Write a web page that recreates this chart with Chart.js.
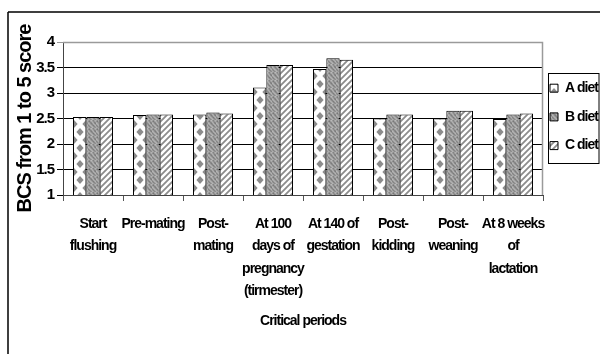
<!DOCTYPE html>
<html><head><meta charset="utf-8">
<script src="https://cdn.jsdelivr.net/npm/chart.js@4/dist/chart.umd.min.js"></script>
<style>html,body{margin:0;padding:0;background:#fff;}#wrap{width:600px;height:354px;position:relative;}</style>
</head><body><div id="wrap"><canvas id="c" width="600" height="354"></canvas></div>
<script>
const categories = [
  ["Start","flushing"],
  ["Pre-mating"],
  ["Post-","mating"],
  ["At 100","days of","pregnancy","(tirmester)"],
  ["At 140 of","gestation"],
  ["Post-","kidding"],
  ["Post-","weaning"],
  ["At 8 weeks","of","lactation"]
];
const seriesNames = ["A diet","B diet","C diet"];
const dietA = [2.53, 2.57, 2.58, 3.11, 3.47, 2.50, 2.50, 2.49];
const dietB = [2.53, 2.58, 2.62, 3.55, 3.68, 2.58, 2.65, 2.58];
const dietC = [2.53, 2.58, 2.60, 3.55, 3.65, 2.58, 2.65, 2.60];
const yMin = 1, yMax = 4, yStep = 0.5;
const yTitle = "BCS from 1 to 5 score";
const xTitle = "Critical periods";

const FONT = "'Liberation Sans Narrow','Arial Narrow','Liberation Sans',Arial,sans-serif";

const canvas = document.getElementById('c');
const ctx = canvas.getContext('2d');
function mk(w,h){const c=document.createElement('canvas');c.width=w;c.height=h;return c;}

function diamondPattern(){
  const c=mk(12,16), g=c.getContext('2d');
  g.fillStyle='#fff'; g.fillRect(0,0,12,16);
  g.fillStyle='#8c8c8c';
  const d=(x,y)=>{g.beginPath();g.moveTo(x,y-4);g.lineTo(x+3.6,y);g.lineTo(x,y+4);g.lineTo(x-3.6,y);g.closePath();g.fill();};
  d(6,4); d(6,20); d(6,-12); d(0,12); d(12,12); d(0,-4); d(12,-4);
  const p=ctx.createPattern(c,'repeat');
  p.setTransform(new DOMMatrix().translate(74,0));
  return p;
}
function texturePattern(){
  const shades=[
    [160,140,170,186,152,132,164,178],
    [142,120,152,172,166,142,150,170],
    [170,152,132,142,176,160,128,142],
    [182,170,142,124,152,178,142,122],
    [152,176,166,142,132,162,174,150],
    [132,150,178,170,142,124,160,180],
    [158,132,152,176,172,142,134,162],
    [174,162,138,150,180,166,148,140]
  ];
  const c=mk(8,8), g=c.getContext('2d');
  for(let y=0;y<8;y++)for(let x=0;x<8;x++){const v=shades[y][x];g.fillStyle=`rgb(${v},${v},${v})`;g.fillRect(x,y,1,1);}
  return ctx.createPattern(c,'repeat');
}
function stripePattern(){
  const c=mk(6,6), g=c.getContext('2d');
  g.fillStyle='#fff'; g.fillRect(0,0,6,6);
  g.strokeStyle='#8c8c8c'; g.lineWidth=1.8;
  g.beginPath(); g.moveTo(-1,7); g.lineTo(7,-1); g.moveTo(-4,4); g.lineTo(4,-4); g.moveTo(2,10); g.lineTo(10,2); g.stroke();
  return ctx.createPattern(c,'repeat');
}

const SPACING='-1px';
const framePlugin = {
  id:'frame',
  beforeUpdate(chart){chart.ctx.letterSpacing=SPACING;},
  beforeLayout(chart){chart.ctx.letterSpacing=SPACING;},
  beforeDraw(chart){
    const g=chart.ctx;
    g.letterSpacing=SPACING;
    g.save();
    g.fillStyle='#fff'; g.fillRect(0,0,chart.width,chart.height);
    g.strokeStyle='#000'; g.lineWidth=1.5;
    g.beginPath(); g.moveTo(8,12); g.lineTo(chart.width,12); g.moveTo(8,12); g.lineTo(8,chart.height); g.stroke();
    g.restore();
  },
  beforeDatasetsDraw(chart){
    const a=chart.chartArea, g=chart.ctx; g.save();
    g.strokeStyle='#9a9a9a'; g.lineWidth=1.5;
    g.beginPath(); g.moveTo(a.left,a.top+0.5); g.lineTo(a.right-0.5,a.top+0.5); g.lineTo(a.right-0.5,a.bottom); g.stroke();
    g.restore();
  },
  afterDraw(chart){
    const hb=chart.legend && chart.legend.legendHitBoxes; if(!hb||!hb.length) return;
    const g=chart.ctx; g.save();
    g.strokeStyle='#000'; g.lineWidth=1;
    const last=hb[hb.length-1];
    const l=Math.round(hb[0].left-2)+0.5, t=Math.round(hb[0].top-8)+0.5, b=Math.round(last.top+last.height+3)+0.5;
    g.strokeRect(l,t,599-l,b-t);
    g.restore();
  }
};

new Chart(canvas,{
  type:'bar',
  data:{
    labels:categories,
    datasets:[
      {label:seriesNames[0],data:dietA,backgroundColor:diamondPattern(),borderColor:'#000',borderWidth:1},
      {label:seriesNames[1],data:dietB,backgroundColor:texturePattern(),borderColor:'#000',borderWidth:1},
      {label:seriesNames[2],data:dietC,backgroundColor:stripePattern(),borderColor:'#000',borderWidth:1}
    ]
  },
  options:{
    responsive:false,
    animation:false,
    devicePixelRatio:1,
    layout:{padding:{top:42,left:8,right:0,bottom:0}},
    datasets:{bar:{categoryPercentage:0.667,barPercentage:1.0}},
    plugins:{
      legend:{
        position:'right',
        align:'start',
        maxWidth:57,
        title:{display:true,text:' ',padding:{top:31,bottom:0},font:{size:1,lineHeight:1.2}},
        labels:{
          boxWidth:8,boxHeight:8,padding:7,color:'#000',
          font:{family:FONT,size:14,weight:'bold',lineHeight:1.55},
          generateLabels(chart){
            return Chart.defaults.plugins.legend.labels.generateLabels(chart).map(l=>Object.assign(l,{text:[l.text]}));
          }
        }
      },
      tooltip:{enabled:false}
    },
    scales:{
      x:{
        afterFit(s){s.height=159;},
        grid:{display:true,drawOnChartArea:false,tickLength:6,color:'#555',offset:true},
        border:{display:true,color:'#444',width:1},
        ticks:{color:'#000',maxRotation:0,minRotation:0,autoSkip:false,padding:12,font:{family:FONT,size:14,weight:'bold',lineHeight:1.6}},
        title:{display:true,text:xTitle,color:'#000',padding:{top:0,bottom:24},font:{family:FONT,size:14,weight:'bold',lineHeight:1.2}}
      },
      y:{
        min:yMin,max:yMax,
        afterFit(s){s.width=55;},
        grid:{color:(c)=> (c.tick && c.tick.value===yMax) ? '#9a9a9a' : '#000',lineWidth:1,tickLength:6},
        border:{display:true,color:'#444',width:1},
        ticks:{stepSize:yStep,color:'#000',padding:3,callback:(v)=>String(v),font:{family:FONT,size:15,weight:'bold'}},
        title:{display:true,text:yTitle,color:'#000',padding:{top:5.5,bottom:0},font:{family:"'Liberation Sans',Arial,sans-serif",size:20,weight:'bold',lineHeight:1.2}}
      }
    }
  },
  plugins:[framePlugin]
});
</script></body></html>
